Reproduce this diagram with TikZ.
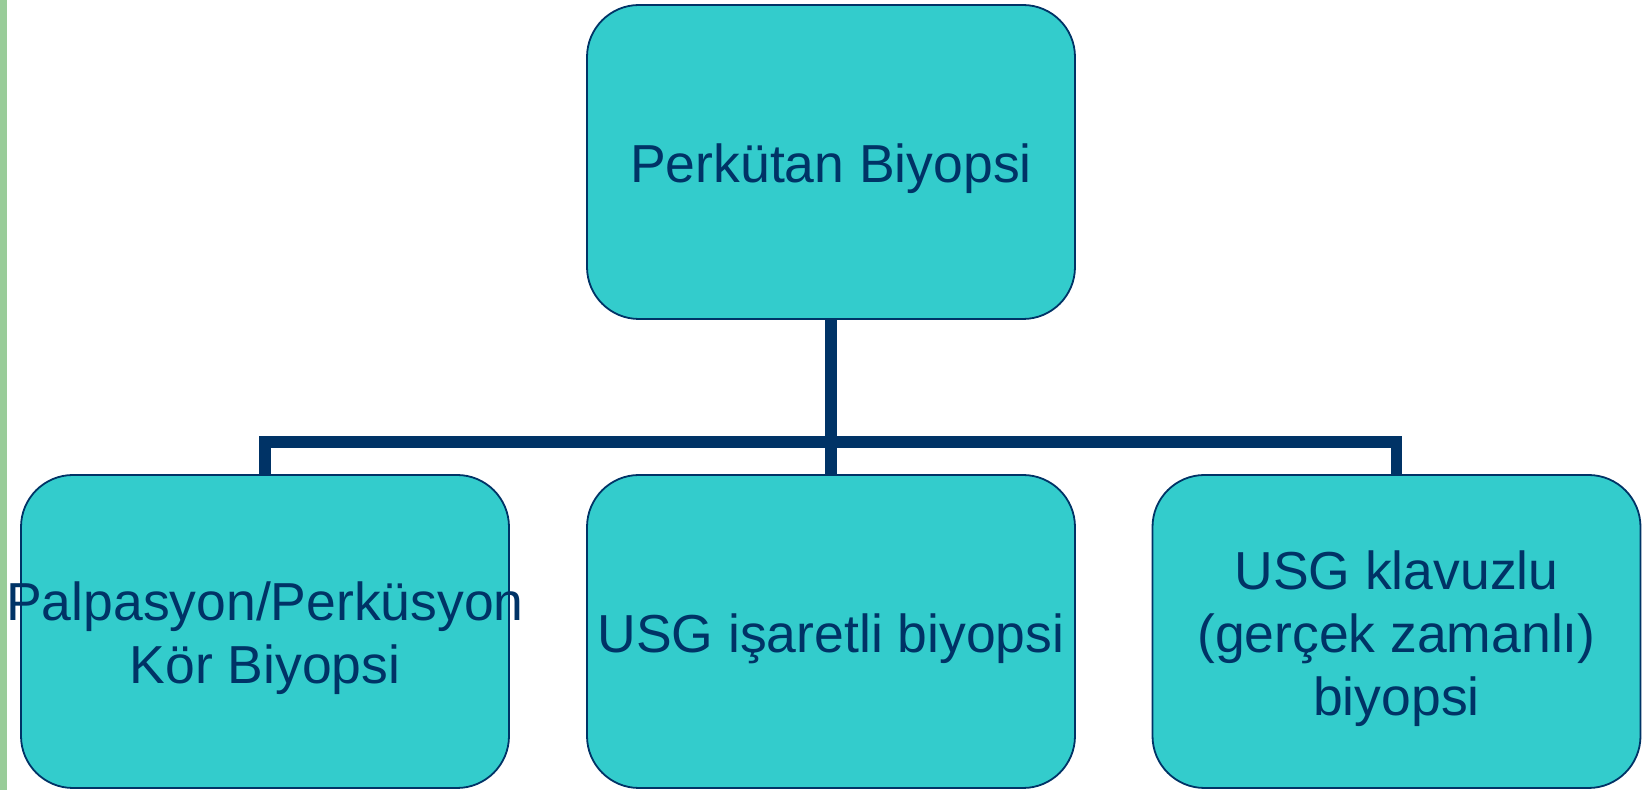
\documentclass[tikz,border=0pt]{standalone}
\usepackage{fontspec}
\setmainfont{Liberation Sans}
\definecolor{navy}{HTML}{003366}
\definecolor{teal}{HTML}{33CCCC}
\definecolor{sidegreen}{HTML}{99CC99}
\begin{document}
\begin{tikzpicture}[x=1pt,y=1pt,
  boxst/.style={draw=navy, line width=1.8pt, fill=teal, rounded corners=52pt,
    minimum width=488pt, minimum height=313pt, inner sep=0pt, outer sep=0pt},
  lbl/.style={text=navy, align=center, inner sep=0pt, yshift=-7pt,
    font=\fontsize{53.5}{63}\selectfont},
  conn/.style={draw=navy, line width=11.5pt, line join=miter}]
\useasboundingbox (0,0) rectangle (1650,790);
\fill[white] (0,0) rectangle (1650,790);
\fill[sidegreen] (0,0) rectangle (7,790);
% boxes
\node[boxst, minimum height=314pt] (top) at (831,628) {};
\node[boxst] (c1) at (265,158.5) {};
\node[boxst] (c2) at (831,158.5) {};
\node[boxst] (c3) at (1396.5,158.5) {};
% connectors
\draw[conn] (top.south) -- (c2.north);
\draw[conn] (c1.north) -- ++(0,33) -| (c3.north);
% labels
\node[lbl] (t0) at (top.center) {Perkütan Biyopsi};
\node[lbl] (t1) at (c1.center) {Palpasyon/Perküsyon\\Kör Biyopsi};
\node[lbl] (t2) at (c2.center) {USG işaretli biyopsi};
\node[lbl] (t3) at (c3.center) {USG klavuzlu\\(gerçek zamanlı)\\biyopsi};
\end{tikzpicture}
\end{document}
